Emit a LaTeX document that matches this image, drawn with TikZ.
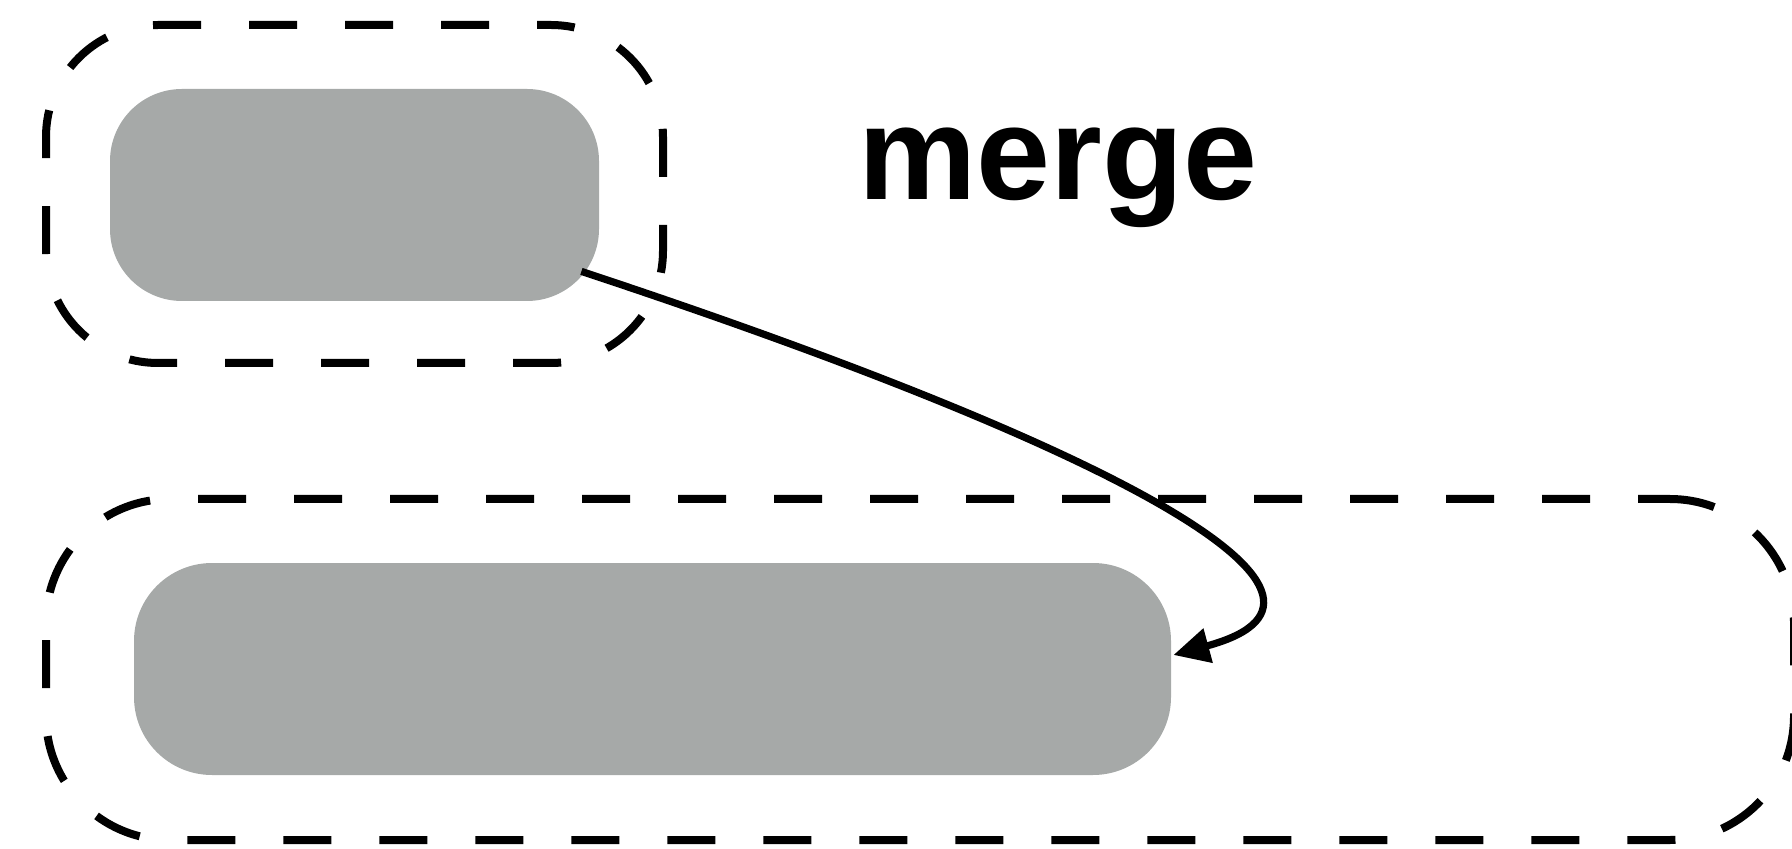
\documentclass[tikz,border=0pt]{standalone}
\usepackage{fontspec}
\setmainfont{Liberation Sans}
\usetikzlibrary{arrows.meta,calc}
\definecolor{boxgray}{HTML}{A6A9A8}
\begin{document}
\begin{tikzpicture}[x=0.5pt,y=-0.5pt,
  graybox/.style={fill=boxgray, draw=none, rounded corners=#1, inner sep=0pt},
  groupbox/.style={draw=black, line width=4pt, dash pattern=on 24pt off 24pt, rounded corners=#1, inner sep=0pt},
  flow/.style={draw=black, line width=3.6pt, -{Triangle[length=18pt,width=17pt]}},
  title/.style={font=\bfseries\fontsize{66.5}{70}\selectfont, inner sep=0pt, anchor=base}
]
\clip (0,0) rectangle (1792,849);
\useasboundingbox (0,0) rectangle (1792,849);
% group boxes
\node[groupbox=56pt, dash phase=17pt, minimum width=308.5pt, minimum height=169pt] (g1) at (354.5,194) {};
\node[groupbox=62pt, dash phase=8pt, minimum width=874pt, minimum height=170.5pt] (g2) at (920,669.5) {};
% gray boxes
\node[graybox=36pt, minimum width=244.5pt, minimum height=106pt] (top) at (354.5,195) {};
\node[graybox=39pt, minimum width=518.5pt, minimum height=106pt] (bot) at (652.5,669) {};
% label
\node[title] (lbl) at (1058,200) {merge};
% connector
\coordinate (s) at ($(top.south east)+(-18,-30)$);
\coordinate (e) at ($(bot.east)+(2,-14)$);
\draw[flow] (s) .. controls +(517,171) and +(222,-60) .. (e);
\end{tikzpicture}
\end{document}
